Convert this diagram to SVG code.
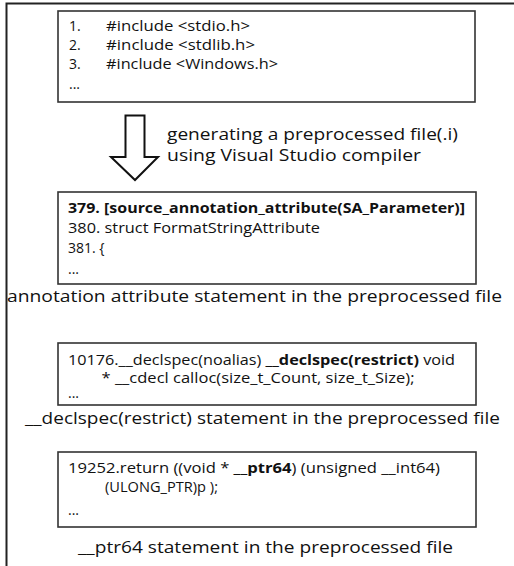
<svg xmlns="http://www.w3.org/2000/svg" width="514" height="566" viewBox="0 0 514 566">
<style>
.box{fill:#fff;stroke:#333;stroke-width:1.6}
.t{font-family:"Open Sans","Liberation Sans",sans-serif;fill:#111}
.c{font-size:14px}
.l{font-size:17px}
.b{font-weight:bold}
</style>
<rect width="514" height="566" fill="#fff"/>
<path d="M6.5 566 V3.5 H514" fill="none" stroke="#222" stroke-width="2"/>
<g id="src">
<rect class="box" x="58" y="11" width="417" height="91"/>
<text class="t c" x="69" y="30.5">1.</text>
<text class="t c" x="106" y="30.5" textLength="144" lengthAdjust="spacingAndGlyphs">#include  &lt;stdio.h&gt;</text>
<text class="t c" x="69" y="49.5">2.</text>
<text class="t c" x="106" y="49.5" textLength="149" lengthAdjust="spacingAndGlyphs">#include  &lt;stdlib.h&gt;</text>
<text class="t c" x="69" y="68.5">3.</text>
<text class="t c" x="106" y="68.5" textLength="172" lengthAdjust="spacingAndGlyphs">#include  &lt;Windows.h&gt;</text>
<text class="t c" x="69" y="89">...</text>
</g>
<g id="connectors">
<path d="M125.5 115.5 H144.5 V157 H158 L135 180 L111 157 H125.5 Z" fill="#fff" stroke="#111" stroke-width="2" stroke-linejoin="miter"/>
</g>
<g id="step-label">
<text class="t l" x="167" y="140" textLength="291" lengthAdjust="spacingAndGlyphs">generating a preprocessed file(.i)</text>
<text class="t l" x="167" y="161" textLength="254" lengthAdjust="spacingAndGlyphs">using Visual Studio compiler</text>
</g>
<g id="annotation">
<rect class="box" x="58" y="192" width="418" height="92"/>
<text class="t c b" x="68" y="213" textLength="397" lengthAdjust="spacingAndGlyphs">379. [source_annotation_attribute(SA_Parameter)]</text>
<text class="t c" x="68" y="233" textLength="252" lengthAdjust="spacingAndGlyphs">380. struct FormatStringAttribute</text>
<text class="t c" x="68" y="253">381. {</text>
<text class="t c" x="68" y="274">...</text>
<text class="t l" x="7" y="302" textLength="495" lengthAdjust="spacingAndGlyphs">annotation attribute statement in the preprocessed file</text>
</g>
<g id="declspec">
<rect class="box" x="58" y="343" width="418" height="62"/>
<text class="t c" x="68" y="365" textLength="387" lengthAdjust="spacingAndGlyphs">10176.__declspec(noalias) <tspan class="b">__declspec(restrict)</tspan> void</text>
<text class="t c" x="101.5" y="383" textLength="313" lengthAdjust="spacingAndGlyphs">* __cdecl calloc(size_t_Count, size_t_Size);</text>
<text class="t c" x="68" y="398">...</text>
<text class="t l" x="25" y="424" textLength="475" lengthAdjust="spacingAndGlyphs">__declspec(restrict) statement in the preprocessed file</text>
</g>
<g id="ptr64">
<rect class="box" x="58" y="452" width="418" height="75"/>
<text class="t c" x="68" y="473" textLength="372" lengthAdjust="spacingAndGlyphs">19252.return ((void * <tspan class="b">__ptr64</tspan>) (unsigned __int64)</text>
<text class="t c" x="105" y="492" textLength="113" lengthAdjust="spacingAndGlyphs">(ULONG_PTR)p );</text>
<text class="t c" x="68" y="515">...</text>
<text class="t l" x="78" y="553" textLength="375" lengthAdjust="spacingAndGlyphs">__ptr64 statement in the preprocessed file</text>
</g>
</svg>
